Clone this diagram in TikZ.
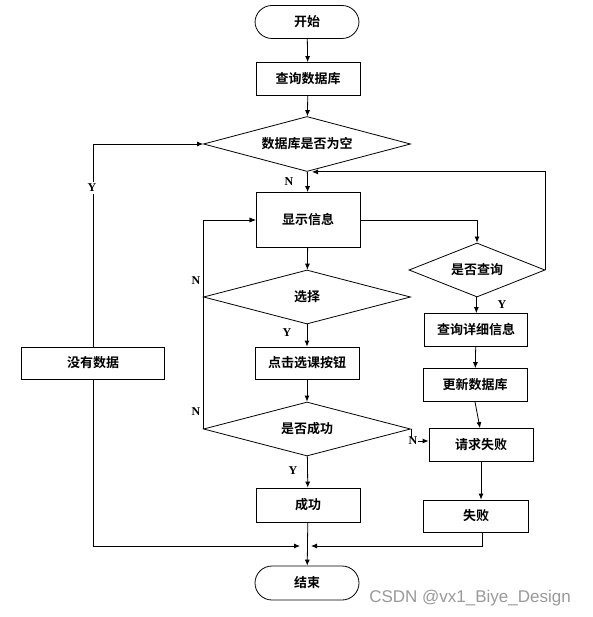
\documentclass[tikz,border=0pt]{standalone}
\usepackage{fontspec}
\setmainfont{Liberation Serif}
\newfontfamily\cjk{Noto Sans CJK SC}[BoldFont={Noto Sans CJK SC Bold}]
\newfontfamily\wmfont{Liberation Sans}
\usepackage{tikz}
\usetikzlibrary{shapes.geometric,arrows.meta,positioning,calc}

\begin{document}
\begin{tikzpicture}[x=1pt, y=-1pt,
        proc/.style={draw, line width=0.8pt, minimum width=104pt, minimum height=33pt,
          font=\cjk\bfseries\fontsize{13}{15}\selectfont, inner sep=2pt},
        term/.style={proc, rounded corners=17pt},
        decision/.style={draw, line width=0.8pt, diamond, aspect=3.7, inner sep=1pt,
          minimum width=207pt, minimum height=55pt,
          font=\cjk\bfseries\fontsize{13}{15}\selectfont},
        lbl/.style={font=\bfseries\fontsize{12}{14}\selectfont, inner sep=0.5pt},
        flow/.style={line width=0.8pt, -{Latex[length=6pt,width=5pt]}},
      ]
        \useasboundingbox (0,0) rectangle (592,617);

        % Main column
        \node[term] (start) at (307,22) {开始};
        \node[proc] (query) at (308,79) {查询数据库};
        \node[decision] (empty) at (307,144) {数据库是否为空};
        \node[proc, minimum height=55pt] (show) at (308,220) {显示信息};
        \node[decision, minimum height=54pt] (choose) at (307,297) {选择};
        \node[proc, minimum height=32pt] (click) at (307,363) {点击选课按钮};
        \node[decision, minimum height=54pt] (ok) at (307,429) {是否成功};
        \node[proc, minimum height=34pt] (succ) at (308,505) {成功};
        \node[term, minimum height=34pt] (end) at (307,583) {结束};
        \coordinate (merge) at (307,546);

        % Left column
        \node[proc, minimum width=143pt, minimum height=32pt] (nodata) at (93,363) {没有数据};

        % Right column
        \node[decision, aspect=2.5, minimum width=136pt, minimum height=54pt] (isquery) at (477,270) {是否查询};
        \node[proc, minimum width=103pt] (detail) at (476,330) {查询详细信息};
        \node[proc] (update) at (475,385) {更新数据库};
        \node[proc] (reqfail) at (481,445) {请求失败};
        \node[proc, minimum width=105pt, minimum height=32pt] (fail) at (476,516) {失败};

        % Main flow
        \draw[flow] (start) -- (query);
        \draw[flow] (query) -- (empty);
        \draw[flow] (empty) -- (show);
        \node[lbl] at (289,182) {N};
        \draw[flow] (show) -- (choose);
        \draw[flow] (choose) -- (click);
        \node[lbl] at (287,333) {Y};
        \draw[flow] (click) -- (ok);
        \draw[flow] (ok) -- (succ);
        \node[lbl] at (293,471) {Y};
        \draw[flow] (succ) -- (end);

        % Loops back to show
        \draw[flow] (choose.west) |- (show.west);
        \draw[flow] (ok.west) |- (show.west);
        \node[lbl] at (196,281) {N};
        \node[lbl] at (196,412) {N};

        % Empty database
        \draw[flow] (nodata.north) |- (empty.west);
        \node[lbl, fill=white, inner sep=2pt] at (92,188) {Y};
        \draw[flow] (nodata.south) |- ([xshift=-7pt]merge);

        % Query branch
        \draw[flow] (show.east) -| (isquery.north);
        \draw[flow] (isquery.east) |- ([xshift=5pt]empty.south);
        \draw[flow] (isquery) -- (detail);
        \node[lbl] at (502,305) {Y};
        \draw[flow] (detail) -- (update);
        \draw[flow] (update.south) -- (reqfail.north -| 480,0);
        \draw[flow] (ok.east) |- ([yshift=4pt]reqfail.west);
        \node[lbl, fill=white] at (413,441) {N};
        \draw[flow] (reqfail.south) -- (reqfail.south |- fail.north);
        \draw[flow] ([xshift=6pt]fail.south) |- ([xshift=4pt]merge);

        \node[font=\wmfont\fontsize{17}{19}\selectfont, text=gray!80] (mark) at (470,598) {CSDN @vx1\_Biye\_Design};
      \end{tikzpicture}
\end{document}
